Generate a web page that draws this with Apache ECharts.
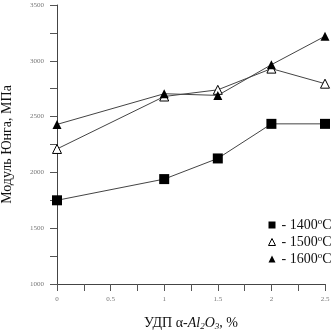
<!DOCTYPE html>
<html>
<head>
<meta charset="utf-8">
<script src="https://cdn.jsdelivr.net/npm/echarts@6/dist/echarts.min.js"></script>
<style>
  html, body { margin: 0; padding: 0; background: #fff; }
  #chart { width: 333px; height: 332px; }
</style>
</head>
<body>
<div id="chart"></div>
<script>
// содержание УДП Al2O3, %
const xValues = [0, 1, 1.5, 2, 2.5]
const series1400 = [1750, 1940, 2125, 2435, 2435]
const series1500 = [2210, 2680, 2740, 2930, 2795]
const series1600 = [2430, 2705, 2690, 2965, 3220]
const seriesNames = ['1400', '1500', '1600']
const legendIcons = ['rect', 'triangle', 'triangle']

const serif = '"Liberation Serif", "DejaVu Serif", serif'

const pairs = (vals) => xValues.map((x, i) => [x, vals[i]])

const chart = echarts.init(document.getElementById('chart'))

const axisCommon = {
  axisLine: { lineStyle: { color: '#444', width: 1 } },
  axisTick: { show: true, inside: false, length: 7, lineStyle: { color: '#555' } },
  minorTick: { show: true, splitNumber: 2, length: 7, lineStyle: { color: '#555' } },
  splitLine: { show: false },
  axisLabel: { color: '#777', fontSize: 7, fontFamily: serif }
}

chart.setOption({
  backgroundColor: '#fff',
  animation: false,
  grid: { left: 57, right: 8, top: 5, bottom: 48, outerBoundsMode: 'none', containLabel: false },
  xAxis: Object.assign({}, axisCommon, {
    type: 'value',
    min: 0,
    max: 2.5,
    interval: 0.5,
    axisLabel: Object.assign({}, axisCommon.axisLabel, { margin: 12 }),
    name: 'УДП α-{i|Al}{sub|2}{i|O}{sub|3}, %',
    nameLocation: 'middle',
    nameGap: 31,
    nameTextStyle: {
      fontFamily: serif, fontSize: 14, color: '#111',
      rich: {
        i: { fontFamily: serif, fontSize: 14, fontStyle: 'italic', color: '#111' },
        sub: { fontFamily: serif, fontSize: 9, fontStyle: 'italic', color: '#111', verticalAlign: 'bottom', padding: [7, 0, 0, 0] }
      }
    }
  }),
  yAxis: Object.assign({}, axisCommon, {
    type: 'value',
    min: 1000,
    max: 3500,
    interval: 500,
    axisLabel: Object.assign({}, axisCommon.axisLabel, { margin: 13, formatter: (v) => String(v) }),
    name: 'Модуль Юнга, МПа',
    nameLocation: 'middle',
    nameGap: 43,
    nameTextStyle: { fontFamily: serif, fontSize: 14, color: '#111' }
  }),
  legend: {
    orient: 'vertical',
    left: 263,
    top: 212,
    itemWidth: 7,
    itemHeight: 7,
    itemGap: 1,
    formatter: (name) => '- ' + name + '{sup|o}C',
    itemStyle: { borderWidth: 1 },
    textStyle: {
      fontFamily: serif, fontSize: 14, color: '#111', lineHeight: 16, padding: [0, 0, 0, 1],
      rich: { sup: { fontFamily: serif, fontSize: 9, color: '#111', verticalAlign: 'top', lineHeight: 16, padding: [0, 0, 6, 0] } }
    },
    data: seriesNames.map((n, i) => ({ name: n, icon: legendIcons[i] }))
  },
  series: [
    {
      name: seriesNames[0], type: 'line', data: pairs(series1400),
      symbol: 'rect', symbolSize: 10,
      lineStyle: { color: '#444', width: 1 },
      itemStyle: { color: '#000' }
    },
    {
      name: seriesNames[1], type: 'line', data: pairs(series1500),
      symbol: 'triangle', symbolSize: 9,
      lineStyle: { color: '#444', width: 1 },
      itemStyle: { color: '#fff', borderColor: '#000', borderWidth: 1 }
    },
    {
      name: seriesNames[2], type: 'line', data: pairs(series1600),
      symbol: 'triangle', symbolSize: 9,
      lineStyle: { color: '#444', width: 1 },
      itemStyle: { color: '#000' }
    }
  ]
})
</script>
</body>
</html>
